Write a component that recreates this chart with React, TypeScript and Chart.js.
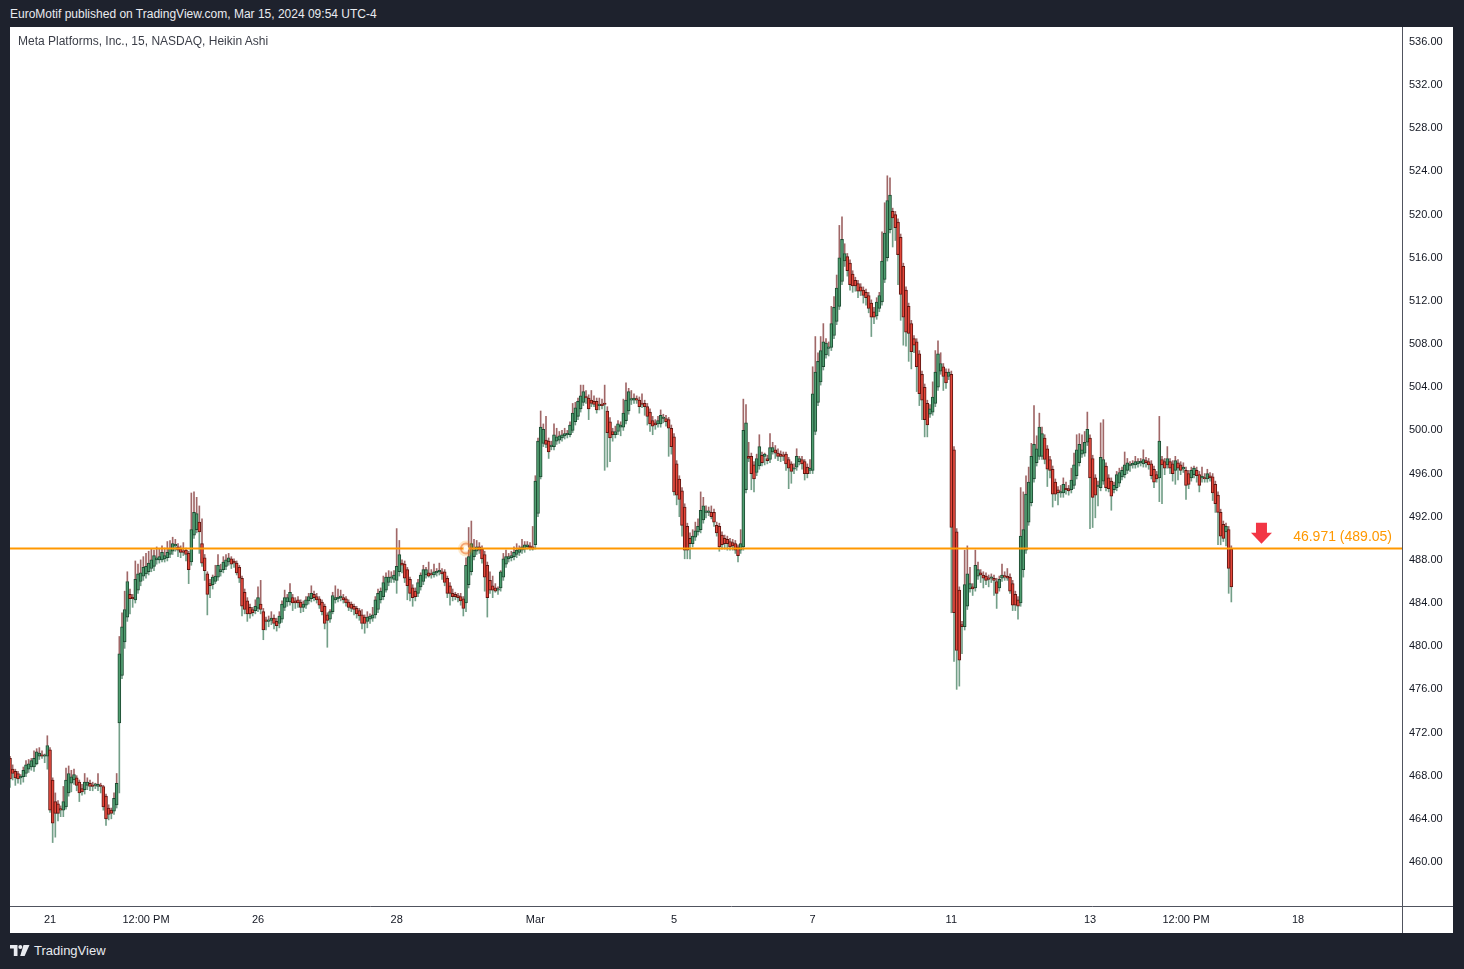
import React, { useEffect, useRef } from 'react';
import { Chart, registerables } from 'chart.js';

Chart.register(...registerables);

// Heikin Ashi candles, 15 min, one array per session: [open, high, low, close]
type C = [number, number, number, number];

const feb20: C[] = [
  [469.6, 469.8, 466.9, 467.7], [468.6, 469.0, 467.6, 468.2], [468.4, 468.6, 467.1, 467.8],
  [468.2, 468.4, 467.3, 467.7], [467.8, 468.1, 467.2, 467.9], [467.9, 468.8, 467.4, 468.5],
  [468.2, 469.4, 467.9, 469.0], [468.6, 469.5, 468.3, 469.1], [468.8, 469.6, 468.5, 469.4],
  [468.8, 470.3, 468.4, 469.6], [469.1, 470.5, 469.0, 470.2], [469.8, 470.6, 469.5, 470.1],
  [469.9, 470.3, 469.6, 469.8], [469.8, 470.0, 469.2, 469.9], [469.8, 471.7, 468.6, 470.8],
];
const feb21: C[] = [
  [470.4, 470.6, 464.6, 464.8], [467.6, 467.8, 461.8, 463.6], [465.6, 466.4, 462.3, 464.5],
  [465.4, 465.7, 463.8, 464.5], [464.9, 465.2, 464.2, 464.8], [464.8, 467.0, 464.2, 465.6],
  [465.1, 468.7, 464.9, 467.6], [466.4, 468.9, 466.1, 468.2], [467.3, 468.5, 466.5, 467.9],
  [467.6, 468.6, 467.2, 468.1], [467.8, 468.0, 466.6, 467.1], [467.4, 467.6, 465.6, 466.4],
  [466.8, 467.2, 466.2, 466.5], [466.7, 468.2, 466.3, 467.4], [467.1, 467.8, 466.7, 467.4],
  [467.3, 467.6, 466.6, 467.0], [467.1, 467.4, 466.6, 467.0], [467.1, 467.3, 466.8, 467.1],
  [467.0, 468.2, 466.6, 467.2], [467.1, 467.3, 466.4, 467.0], [467.0, 467.1, 464.8, 465.1],
  [466.1, 466.3, 463.4, 464.0], [465.0, 465.3, 463.9, 464.4], [464.8, 465.0, 464.0, 464.5],
  [464.7, 466.4, 464.4, 465.9], [465.3, 468.2, 465.0, 467.3],
];
const feb22: C[] = [
  [472.9, 480.9, 466.4, 479.3], [477.3, 483.1, 477.0, 481.8], [480.4, 485.1, 479.8, 483.4],
  [482.7, 486.9, 482.3, 486.0], [484.8, 485.3, 483.0, 484.4], [484.5, 484.8, 483.6, 484.4],
  [484.3, 487.9, 484.0, 486.2], [485.2, 487.6, 484.9, 486.7], [486.0, 488.0, 485.6, 486.8],
  [486.5, 488.3, 486.1, 487.3], [486.7, 488.6, 486.3, 487.4], [486.9, 488.8, 486.6, 487.7],
  [487.2, 489.0, 486.9, 488.0], [487.4, 488.9, 487.0, 488.4], [488.0, 489.2, 487.6, 488.2],
  [488.0, 489.0, 487.7, 488.3], [488.0, 489.3, 487.8, 488.7], [488.1, 489.1, 487.8, 488.4],
  [488.2, 489.7, 487.9, 488.7], [488.5, 489.8, 488.2, 489.1], [488.8, 490.1, 488.5, 489.5],
  [489.3, 489.9, 488.8, 489.4], [489.2, 489.5, 488.3, 488.9], [489.0, 489.3, 488.2, 488.7],
  [488.8, 489.6, 488.4, 488.7], [488.9, 489.1, 487.9, 488.5],
];
const feb23: C[] = [
  [488.6, 488.8, 485.8, 487.1], [487.8, 494.2, 487.5, 490.8], [490.3, 494.3, 490.0, 492.4],
  [490.8, 493.8, 490.5, 492.3], [491.5, 493.0, 488.6, 490.6], [489.5, 491.8, 487.4, 487.7],
  [488.2, 488.5, 486.1, 487.0], [486.7, 486.9, 482.9, 484.8], [485.8, 486.2, 484.5, 485.6],
  [485.7, 486.6, 485.3, 486.4], [486.0, 487.5, 485.8, 486.5], [486.4, 488.5, 486.1, 487.5],
  [486.9, 487.6, 486.5, 487.1], [487.1, 488.3, 486.8, 487.8], [487.4, 488.5, 487.1, 488.0],
  [487.8, 488.6, 487.5, 488.2], [488.1, 488.3, 487.2, 487.6], [487.9, 488.1, 487.3, 487.7],
  [487.7, 487.9, 486.6, 486.8], [487.3, 487.5, 485.9, 486.3], [486.3, 486.5, 482.8, 483.7],
  [485.0, 485.3, 483.0, 483.4], [484.2, 484.5, 482.3, 483.0], [483.6, 483.9, 482.6, 483.0],
  [483.4, 483.6, 482.8, 483.1], [483.3, 484.3, 483.0, 483.7],
];
const feb26: C[] = [
  [483.5, 485.5, 483.2, 484.5], [483.9, 486.1, 483.0, 483.4], [483.2, 483.5, 480.6, 481.5],
  [482.4, 482.7, 481.5, 482.3], [482.3, 482.8, 481.8, 482.4], [482.4, 483.2, 482.0, 482.6],
  [482.6, 482.9, 481.6, 482.1], [482.3, 482.6, 481.4, 481.9], [482.1, 483.2, 481.7, 482.8],
  [482.5, 484.2, 482.2, 483.9], [483.6, 485.2, 483.3, 484.5], [484.1, 484.8, 483.7, 484.5],
  [484.1, 485.8, 483.8, 485.0], [484.5, 484.8, 483.3, 484.0], [484.2, 484.5, 483.5, 484.0],
  [484.3, 484.6, 483.6, 484.0], [484.1, 484.3, 483.1, 483.6], [483.6, 484.2, 483.2, 483.9],
  [483.8, 484.6, 483.5, 484.3], [484.2, 484.9, 483.9, 484.6], [484.4, 485.6, 484.1, 484.9],
  [484.8, 485.1, 484.2, 484.5], [484.6, 484.9, 484.0, 484.3], [484.4, 484.6, 483.5, 483.8],
  [484.1, 484.3, 482.9, 483.2], [483.7, 483.9, 481.6, 482.1],
];
const feb27: C[] = [
  [482.9, 483.1, 479.9, 482.4], [482.5, 483.4, 482.2, 483.2], [483.2, 485.0, 483.0, 484.7],
  [484.3, 485.6, 484.0, 484.5], [484.4, 485.3, 484.1, 484.5], [484.5, 485.2, 484.2, 484.6],
  [484.5, 484.8, 484.0, 484.3], [484.4, 484.6, 483.7, 484.0], [484.1, 484.3, 483.3, 483.6],
  [483.9, 484.1, 483.2, 483.5], [483.7, 483.9, 482.9, 483.4], [483.5, 483.7, 482.6, 483.0],
  [483.3, 483.5, 482.4, 482.8], [482.9, 483.4, 481.6, 482.1], [482.7, 482.9, 481.2, 482.1],
  [482.3, 483.2, 481.7, 482.7], [482.5, 483.0, 482.1, 482.8], [482.6, 483.6, 482.3, 482.9],
  [482.9, 484.6, 482.6, 484.3], [483.4, 485.3, 483.1, 484.9], [484.3, 485.4, 484.0, 485.1],
  [484.6, 486.5, 484.3, 485.9], [485.2, 486.8, 485.0, 486.4], [485.9, 487.0, 485.6, 486.4],
  [486.3, 486.9, 485.9, 486.4], [486.2, 487.0, 485.9, 486.6],
];
const feb28: C[] = [
  [486.1, 490.9, 484.9, 487.4], [486.9, 489.8, 486.5, 488.5], [487.7, 488.0, 486.8, 487.5],
  [487.6, 487.9, 485.9, 486.3], [487.1, 487.3, 484.3, 485.6], [486.2, 486.4, 484.2, 484.9],
  [485.4, 485.7, 483.7, 484.5], [485.1, 485.4, 484.2, 484.6], [484.9, 486.2, 484.6, 485.9],
  [485.5, 486.8, 485.2, 486.6], [486.0, 487.5, 485.7, 487.1], [486.6, 487.3, 486.3, 487.1],
  [486.8, 487.8, 486.4, 486.5], [486.7, 487.1, 486.3, 486.6], [486.6, 487.6, 486.4, 486.9],
  [486.8, 487.2, 486.5, 486.9], [486.9, 487.7, 486.6, 487.0], [486.9, 487.2, 486.2, 486.7],
  [486.9, 487.1, 485.6, 485.9], [486.3, 486.5, 484.5, 484.9], [485.6, 485.9, 483.8, 484.9],
  [484.9, 485.3, 484.2, 484.6], [484.8, 485.0, 484.3, 484.6], [484.7, 484.9, 484.1, 484.5],
  [484.6, 484.9, 483.8, 484.2], [484.4, 484.6, 482.8, 483.5],
];
const feb29: C[] = [
  [484.0, 488.2, 483.2, 487.5], [485.7, 491.0, 485.4, 488.3], [486.9, 491.6, 486.6, 489.5],
  [488.3, 489.9, 488.0, 488.9], [488.8, 489.8, 488.5, 489.2], [489.2, 489.6, 488.6, 488.9],
  [489.0, 489.3, 487.7, 488.1], [488.5, 488.8, 485.1, 486.4], [487.5, 487.8, 482.7, 484.5],
  [486.1, 486.9, 484.9, 485.2], [485.6, 486.5, 484.5, 485.2], [485.4, 485.8, 485.0, 485.1],
  [485.2, 485.5, 484.8, 485.3], [485.4, 487.0, 485.1, 486.9], [486.4, 488.6, 486.1, 488.1],
  [487.6, 488.9, 487.3, 488.3], [488.1, 488.6, 487.8, 488.3], [488.2, 488.8, 487.9, 488.4],
  [488.3, 489.2, 488.0, 488.7], [488.5, 489.5, 488.2, 488.9], [488.7, 489.3, 488.4, 489.0],
  [488.9, 489.9, 488.6, 489.2], [489.0, 489.7, 488.7, 489.4], [489.2, 489.7, 489.0, 489.4],
  [489.3, 489.6, 488.9, 489.1], [489.2, 491.1, 488.9, 489.0],
];
const mar1: C[] = [
  [489.4, 495.8, 489.0, 495.3], [492.3, 499.3, 492.0, 499.0], [495.7, 501.8, 495.5, 500.3],
  [498.8, 500.6, 498.5, 500.1], [499.1, 501.3, 498.4, 498.7], [499.0, 499.3, 497.4, 498.0],
  [498.5, 499.0, 498.2, 498.6], [498.5, 500.6, 498.2, 499.6], [499.0, 500.2, 498.7, 499.4],
  [499.1, 499.9, 498.8, 499.5], [499.3, 500.0, 499.0, 499.6], [499.5, 500.2, 499.2, 499.7],
  [499.6, 500.0, 499.3, 499.7], [499.6, 500.8, 499.4, 500.5], [500.0, 502.5, 499.8, 501.6],
  [500.8, 502.6, 500.5, 502.1], [501.3, 503.0, 501.0, 502.7], [502.0, 504.2, 501.7, 503.2],
  [502.6, 504.2, 502.3, 503.6], [503.1, 503.7, 502.5, 503.0], [503.0, 503.3, 501.0, 502.0],
  [502.8, 503.7, 502.2, 502.5], [502.7, 503.2, 502.2, 502.4], [502.7, 503.0, 501.6, 501.9],
  [502.3, 503.0, 501.9, 502.4], [502.4, 502.9, 502.0, 502.3],
];
const mar4: C[] = [
  [502.5, 504.2, 496.3, 502.4], [501.8, 502.2, 496.6, 499.8], [500.8, 501.2, 497.1, 499.3],
  [499.9, 500.2, 499.0, 499.6], [499.6, 500.4, 499.3, 499.9], [499.9, 500.9, 499.6, 500.6],
  [500.3, 500.8, 499.5, 500.5], [500.3, 502.9, 500.0, 501.6], [500.9, 504.4, 500.6, 502.8],
  [501.8, 503.9, 501.5, 503.6], [502.8, 503.7, 502.4, 502.9], [502.8, 503.4, 502.5, 503.0],
  [502.9, 503.2, 502.5, 502.8], [502.8, 503.1, 501.6, 502.2], [502.5, 503.4, 502.1, 502.4],
  [502.5, 502.8, 501.4, 502.2], [502.2, 502.5, 500.5, 501.3], [501.7, 502.0, 499.9, 500.6],
  [500.9, 501.3, 499.6, 500.4], [500.7, 501.0, 500.1, 500.5], [500.6, 501.3, 500.3, 500.9],
  [500.6, 501.9, 500.3, 501.4], [501.1, 501.5, 500.7, 501.1], [501.1, 501.4, 500.4, 500.8],
  [501.0, 501.2, 497.6, 500.2], [500.2, 500.5, 497.8, 498.5],
];
const mar5: C[] = [
  [499.4, 499.7, 494.0, 494.3], [496.9, 497.2, 493.1, 494.0], [495.5, 495.8, 492.0, 493.6],
  [494.4, 494.7, 490.2, 491.2], [492.9, 493.2, 488.1, 488.9], [491.1, 491.4, 488.1, 488.9],
  [490.0, 490.5, 488.1, 489.5], [489.5, 490.8, 489.2, 490.2], [490.1, 491.5, 489.8, 490.7],
  [490.6, 491.8, 490.3, 491.1], [490.8, 494.3, 490.5, 492.6], [491.7, 493.8, 491.4, 493.0],
  [492.4, 493.0, 491.9, 492.4], [492.4, 492.9, 492.1, 492.4], [492.4, 493.0, 491.8, 492.0],
  [492.4, 492.7, 491.1, 491.5], [491.2, 491.5, 490.2, 490.5], [491.1, 491.4, 488.8, 489.2],
  [490.3, 490.6, 489.0, 489.4], [490.0, 490.3, 489.0, 489.5], [489.9, 490.2, 488.9, 489.5],
  [489.7, 490.0, 488.9, 489.2], [489.6, 489.9, 488.9, 489.3], [489.5, 489.8, 488.6, 488.9],
  [489.2, 489.4, 487.8, 488.4], [488.9, 490.8, 488.6, 489.5],
];
const mar6: C[] = [
  [489.2, 502.9, 488.9, 500.0], [494.5, 502.4, 494.2, 500.7], [497.6, 498.9, 497.1, 497.4],
  [497.6, 497.9, 494.5, 496.0], [496.8, 497.1, 494.3, 495.5], [496.1, 497.8, 495.8, 497.4],
  [496.7, 499.6, 496.4, 498.5], [497.7, 498.0, 496.7, 497.0], [497.6, 497.9, 496.8, 497.8],
  [497.4, 497.7, 496.9, 497.2], [497.3, 499.7, 497.0, 498.4], [498.0, 498.9, 497.8, 498.4],
  [498.2, 498.6, 497.4, 497.9], [497.9, 498.3, 497.2, 497.6], [497.8, 498.1, 497.1, 497.6],
  [497.7, 498.0, 497.2, 497.6], [497.8, 498.0, 496.3, 496.9], [497.3, 497.5, 494.6, 496.5],
  [496.9, 497.1, 495.1, 496.2], [496.4, 496.9, 496.0, 496.5], [496.6, 498.3, 496.3, 497.6],
  [497.1, 497.6, 496.8, 497.4], [497.3, 497.6, 496.4, 496.9], [497.1, 497.3, 495.4, 496.0],
  [496.6, 496.9, 495.6, 496.0], [496.3, 497.3, 496.0, 496.5],
];
const mar7: C[] = [
  [496.3, 505.9, 496.0, 503.4], [499.9, 508.7, 499.6, 505.4], [502.6, 507.2, 502.3, 506.4],
  [504.5, 508.7, 504.2, 507.4], [505.9, 509.9, 505.6, 508.2], [507.0, 508.5, 506.7, 508.1],
  [507.6, 508.2, 506.9, 507.7], [507.7, 511.5, 507.4, 509.9], [508.8, 512.4, 508.5, 511.4],
  [510.1, 514.4, 509.8, 513.2], [511.5, 519.0, 511.2, 516.0], [513.8, 519.8, 513.5, 517.7],
  [515.7, 517.3, 515.2, 516.4], [516.1, 516.4, 514.3, 514.8], [515.5, 515.8, 513.0, 513.5],
  [514.5, 514.8, 512.8, 513.4], [513.9, 514.2, 512.9, 513.4], [513.6, 513.9, 512.3, 512.9],
  [513.3, 513.6, 512.5, 512.9], [513.0, 513.3, 511.8, 512.5], [512.8, 513.1, 511.6, 512.3],
  [512.5, 512.8, 510.9, 511.3], [511.8, 512.1, 508.7, 510.5], [511.0, 511.4, 509.9, 510.5],
  [510.6, 512.3, 510.3, 511.9], [511.3, 512.8, 511.0, 512.5],
];
const mar8: C[] = [
  [511.9, 518.4, 511.6, 515.7], [514.0, 521.1, 513.7, 518.3], [516.0, 523.6, 515.7, 521.3],
  [518.6, 523.4, 518.3, 521.8], [520.3, 520.6, 517.0, 519.7], [520.0, 520.3, 517.6, 518.8],
  [519.3, 519.6, 513.5, 516.3], [517.9, 518.2, 510.2, 512.6], [515.2, 515.5, 507.9, 510.5],
  [513.0, 513.3, 507.8, 509.1], [511.5, 511.8, 506.4, 509.0], [509.9, 510.2, 505.7, 507.3],
  [508.5, 508.8, 507.2, 507.9], [508.2, 508.5, 503.6, 505.9], [507.1, 507.4, 502.3, 503.4],
  [505.2, 505.5, 501.0, 502.8], [504.0, 504.3, 499.4, 501.0], [502.5, 502.8, 499.4, 500.5],
  [501.5, 502.4, 501.2, 502.0], [501.7, 504.5, 501.4, 503.1], [502.5, 507.4, 502.2, 505.4],
  [504.0, 508.3, 503.7, 507.1], [505.5, 507.2, 505.2, 506.2], [505.9, 506.2, 503.7, 505.0],
  [505.4, 505.7, 503.9, 504.4], [505.0, 505.7, 504.7, 505.4],
];
const mar11: C[] = [
  [505.2, 505.5, 483.1, 491.0], [498.2, 498.5, 478.6, 483.1], [490.6, 490.9, 476.0, 479.6],
  [485.2, 485.5, 476.3, 478.7], [482.0, 482.3, 479.3, 481.8], [481.8, 488.9, 481.5, 485.7],
  [483.7, 489.3, 483.4, 486.7], [485.3, 487.3, 485.0, 485.8], [485.5, 485.8, 484.7, 485.3],
  [485.4, 488.9, 485.1, 487.5], [486.5, 487.8, 486.2, 487.1], [486.8, 487.1, 485.9, 486.6],
  [486.6, 486.9, 485.4, 486.3], [486.5, 486.8, 485.7, 486.1], [486.3, 486.6, 485.5, 486.2],
  [486.3, 486.7, 485.9, 486.3], [486.3, 486.6, 484.7, 486.1], [486.0, 486.3, 483.5, 484.9],
  [485.4, 486.5, 485.1, 486.2], [486.3, 487.6, 486.0, 486.6], [486.5, 486.9, 486.1, 486.4],
  [486.5, 487.2, 486.1, 486.3], [486.4, 486.7, 484.9, 485.1], [485.8, 486.1, 483.3, 483.8],
  [484.8, 485.1, 483.3, 483.8], [484.3, 484.6, 482.5, 483.7],
];
const mar12: C[] = [
  [484.0, 494.7, 483.7, 490.2], [487.1, 494.3, 486.4, 490.8], [488.9, 495.8, 488.6, 494.1],
  [491.5, 496.6, 491.2, 495.2], [493.3, 498.8, 493.0, 497.6], [495.5, 502.3, 495.2, 498.7],
  [497.0, 499.5, 496.7, 498.3], [497.6, 501.6, 497.3, 500.3], [497.6, 500.3, 497.3, 499.7],
  [499.3, 499.6, 496.9, 497.3], [498.3, 498.6, 494.8, 496.4], [497.3, 497.6, 495.6, 496.3],
  [496.4, 496.7, 492.9, 494.1], [495.2, 495.5, 493.5, 494.1], [494.5, 494.8, 493.1, 494.2],
  [494.2, 494.9, 493.8, 494.2], [494.2, 495.6, 493.8, 495.0], [494.6, 495.2, 494.1, 494.5],
  [494.6, 494.9, 494.0, 494.4], [494.5, 496.5, 494.2, 495.4], [494.9, 497.9, 494.6, 496.8],
  [495.8, 499.6, 495.5, 498.2], [497.0, 499.7, 496.7, 498.7], [497.8, 499.6, 497.5, 498.2],
  [497.9, 499.9, 497.6, 498.9], [498.9, 501.7, 498.6, 500.1],
];
const mar13: C[] = [
  [499.3, 499.6, 490.9, 495.6], [497.4, 497.7, 491.0, 493.8], [495.6, 495.9, 491.9, 494.0],
  [494.8, 495.3, 493.0, 494.8], [494.7, 500.7, 494.4, 497.5], [495.3, 501.0, 495.0, 497.3],
  [496.7, 497.0, 494.4, 494.7], [495.6, 495.9, 494.3, 494.6], [495.3, 495.6, 492.6, 493.9],
  [494.5, 495.2, 494.2, 494.9], [494.7, 496.2, 494.4, 495.9], [495.1, 496.5, 494.8, 496.1],
  [495.7, 496.6, 495.4, 496.3], [495.9, 498.0, 495.6, 496.8], [496.3, 497.4, 496.0, 497.0],
  [496.7, 497.1, 496.2, 496.8], [496.8, 497.2, 496.5, 496.8], [496.8, 497.6, 496.5, 497.1],
  [496.9, 497.4, 496.6, 497.1], [497.0, 497.4, 496.7, 497.0], [496.9, 498.2, 496.6, 497.3],
  [497.2, 497.5, 496.6, 497.0], [497.1, 497.4, 496.4, 496.8], [496.9, 497.2, 495.5, 495.8],
  [496.4, 496.7, 494.7, 495.2], [495.9, 496.2, 495.2, 495.5],
];
const mar14: C[] = [
  [495.6, 501.3, 493.4, 499.0], [497.3, 497.6, 493.2, 496.8], [497.1, 497.4, 495.9, 496.5],
  [496.8, 498.5, 496.5, 497.4], [497.1, 497.4, 496.0, 496.5], [496.9, 497.2, 495.3, 496.0],
  [496.3, 497.6, 495.0, 497.2], [497.0, 497.3, 495.4, 496.5], [496.8, 497.1, 495.9, 496.3],
  [496.4, 497.0, 496.1, 496.6], [496.3, 496.6, 493.6, 494.9], [496.0, 496.3, 494.6, 495.0],
  [495.6, 496.6, 495.3, 496.3], [495.9, 496.7, 495.6, 496.5], [496.3, 496.6, 495.2, 495.8],
  [495.9, 496.2, 494.3, 494.9], [495.6, 496.6, 495.2, 495.6], [495.6, 496.0, 495.2, 495.5],
  [495.5, 496.4, 495.2, 496.0], [495.8, 496.1, 495.3, 495.6], [495.7, 496.0, 493.5, 494.2],
  [495.0, 495.3, 492.4, 493.2], [494.0, 494.3, 489.4, 492.4], [492.4, 492.7, 489.4, 490.2],
  [491.3, 491.6, 489.7, 490.0], [490.6, 491.4, 489.3, 491.1],
];
const mar15: C[] = [
  [490.8, 491.1, 484.9, 487.2], [489.0, 489.3, 484.1, 485.5],
];

const sessions: C[][] = [
  feb20, feb21, feb22, feb23, feb26, feb27, feb28, feb29, mar1, mar4,
  mar5, mar6, mar7, mar8, mar11, mar12, mar13, mar14, mar15,
];

// axis ticks
const priceTicks = [460, 464, 468, 472, 476, 480, 484, 488, 492, 496, 500, 504, 508, 512, 516, 520, 524, 528, 532, 536];
const timeTickBars = [15, 51, 93, 145, 197, 249, 301, 353, 405, 441, 483];
const timeTickLabels = ['21', '12:00 PM', '26', '28', 'Mar', '5', '7', '11', '13', '12:00 PM', '18'];

// drawing: horizontal level, its label, marker and arrow
const levelPrice = 489.05;
const levelText = '46.971 (489.05)';
const markerBar = 171;
const arrowBar = 469.3;
const arrowPrice = 489.5;

const X_MIN = 0;
const X_MAX = 522;
const Y_MIN = 455.92;
const Y_MAX = 537.39;

const FONT = '"Liberation Sans", Arial, sans-serif';

export default function App() {
  const ref = useRef<HTMLCanvasElement>(null);

  useEffect(() => {
    if (!ref.current) return;
    const candles = sessions.flat();
    const bodies = candles.map((c, i) => ({ x: i, y: [c[0], c[3]] }));
    const upper = candles.map((c, i) => ({ x: i, y: [Math.max(c[0], c[3]), Math.max(c[1], c[0], c[3])] }));
    const lower = candles.map((c, i) => ({ x: i, y: [Math.min(c[2], c[0], c[3]), Math.min(c[0], c[3])] }));
    const rising = candles.map((c) => c[3] >= c[0]);

    const overlay = {
      id: 'overlay',
      afterDatasetsDraw(chart: any) {
        const { ctx, chartArea, scales } = chart;
        const xs = scales.x;
        const ys = scales.y;
        ctx.save();
        // marker on the level
        const mx = xs.getPixelForValue(markerBar);
        const my = ys.getPixelForValue(levelPrice);
        ctx.beginPath();
        ctx.arc(mx, my, 8, 0, Math.PI * 2);
        ctx.fillStyle = 'rgba(255,152,0,0.2)';
        ctx.fill();
        ctx.beginPath();
        ctx.arc(mx, my, 5, 0, Math.PI * 2);
        ctx.lineWidth = 2;
        ctx.strokeStyle = 'rgba(235,110,40,0.55)';
        ctx.stroke();
        ctx.beginPath();
        ctx.arc(mx, my, 2.5, 0, Math.PI * 2);
        ctx.fillStyle = 'rgba(255,255,255,0.9)';
        ctx.fill();
        // arrow
        const ax = xs.getPixelForValue(arrowBar);
        const ay = ys.getPixelForValue(arrowPrice);
        ctx.beginPath();
        ctx.moveTo(ax - 5.5, ay - 21);
        ctx.lineTo(ax + 5.5, ay - 21);
        ctx.lineTo(ax + 5.5, ay - 11);
        ctx.lineTo(ax + 10.5, ay - 11);
        ctx.lineTo(ax, ay);
        ctx.lineTo(ax - 10.5, ay - 11);
        ctx.lineTo(ax - 5.5, ay - 11);
        ctx.closePath();
        ctx.fillStyle = '#f23645';
        ctx.fill();
        // level label
        ctx.font = '14px ' + FONT;
        ctx.fillStyle = '#ff9800';
        ctx.textAlign = 'right';
        ctx.textBaseline = 'middle';
        ctx.fillText(levelText, chartArea.right - 10, my - 11.5);
        ctx.restore();
      },
      afterDraw(chart: any) {
        const { ctx, chartArea, width, height } = chart;
        ctx.save();
        ctx.strokeStyle = '#50535e';
        ctx.lineWidth = 1;
        ctx.beginPath();
        ctx.moveTo(Math.round(chartArea.right) + 0.5, 0);
        ctx.lineTo(Math.round(chartArea.right) + 0.5, height);
        ctx.moveTo(0, Math.round(chartArea.bottom) + 0.5);
        ctx.lineTo(width, Math.round(chartArea.bottom) + 0.5);
        ctx.stroke();
        ctx.restore();
      },
    };

    const chart = new Chart(ref.current, {
      type: 'bar',
      data: {
        datasets: [
          {
            type: 'line',
            data: [{ x: X_MIN, y: levelPrice }, { x: X_MAX, y: levelPrice }],
            borderColor: '#ff9800',
            borderWidth: 2,
            pointRadius: 0,
            order: 0,
          } as any,
          {
            data: bodies,
            backgroundColor: rising.map((u) => (u ? '#4f9d70' : '#e4473a')),
            borderColor: rising.map((u) => (u ? '#1d4a31' : '#5e1510')),
            borderWidth: 1,
            borderSkipped: false,
            barThickness: 3,
            minBarLength: 1.5,
            grouped: false,
            order: 1,
          } as any,
          {
            data: upper,
            backgroundColor: '#a06767',
            barThickness: 1,
            grouped: false,
            order: 2,
          } as any,
          {
            data: lower,
            backgroundColor: '#739f88',
            barThickness: 1,
            grouped: false,
            order: 2,
          } as any,
        ],
      },
      options: {
        responsive: false,
        animation: false,
        events: [],
        layout: { padding: 0 },
        plugins: { legend: { display: false }, tooltip: { enabled: false } },
        scales: {
          x: {
            type: 'linear',
            min: X_MIN,
            max: X_MAX,
            offset: false,
            bounds: 'data',
            grid: { display: false, drawTicks: false },
            border: { display: false },
            ticks: {
              autoSkip: false,
              maxRotation: 0,
              padding: 7,
              color: '#131722',
              font: { family: FONT, size: 11 },
              callback: (v: any) => {
                const k = timeTickBars.indexOf(Number(v));
                return k >= 0 ? timeTickLabels[k] : '';
              },
            },
            afterBuildTicks: (s: any) => {
              s.ticks = timeTickBars.map((v) => ({ value: v }));
            },
            afterFit: (s: any) => {
              s.height = 27;
              s.paddingLeft = 0;
              s.paddingRight = 0;
            },
          },
          y: {
            type: 'linear',
            position: 'right',
            min: Y_MIN,
            max: Y_MAX,
            beginAtZero: false,
            grid: { display: false, drawTicks: false },
            border: { display: false },
            ticks: {
              padding: 7,
              color: '#131722',
              font: { family: FONT, size: 11 },
              callback: (v: any) => Number(v).toFixed(2),
            },
            afterBuildTicks: (s: any) => {
              s.ticks = priceTicks.map((v) => ({ value: v }));
            },
            afterFit: (s: any) => {
              s.width = 51;
              s.paddingTop = 0;
              s.paddingBottom = 0;
            },
          },
        },
      } as any,
      plugins: [overlay],
    });
    return () => chart.destroy();
  }, []);

  return (
    <div
      style={{
        position: 'fixed',
        left: 0,
        top: 0,
        width: 1464,
        height: 969,
        background: '#1e222d',
        overflow: 'hidden',
        fontFamily: FONT,
      }}
    >
      <div style={{ position: 'absolute', left: 10, top: 6, color: '#e9ebf0', fontSize: 12, lineHeight: '16px', whiteSpace: 'nowrap' }}>
        EuroMotif published on TradingView.com, Mar 15, 2024 09:54 UTC-4
      </div>
      <div style={{ position: 'absolute', left: 10, top: 27, width: 1443, height: 906, background: '#ffffff' }}>
        <canvas ref={ref} width={1443} height={906} style={{ display: 'block' }} />
        <div style={{ position: 'absolute', left: 8, top: 6, color: '#3b3e48', fontSize: 12, lineHeight: '16px', whiteSpace: 'nowrap' }}>
          Meta Platforms, Inc., 15, NASDAQ, Heikin Ashi
        </div>
      </div>
      <div style={{ position: 'absolute', left: 10, top: 943, height: 16, display: 'flex', alignItems: 'center', color: '#e9ebf0' }}>
        <svg width="20" height="12" viewBox="0 0 20 12" style={{ display: 'block', marginRight: 4 }}>
          <path d="M0 0 H7.5 V11 H3.8 V3.6 H0 Z" fill="#e9ebf0" />
          <circle cx="10.3" cy="2" r="2" fill="#e9ebf0" />
          <path d="M13.5 0 H19.5 L14.6 11 H10.2 Z" fill="#e9ebf0" />
        </svg>
        <span style={{ fontSize: 13, lineHeight: '16px' }}>TradingView</span>
      </div>
    </div>
  );
}
